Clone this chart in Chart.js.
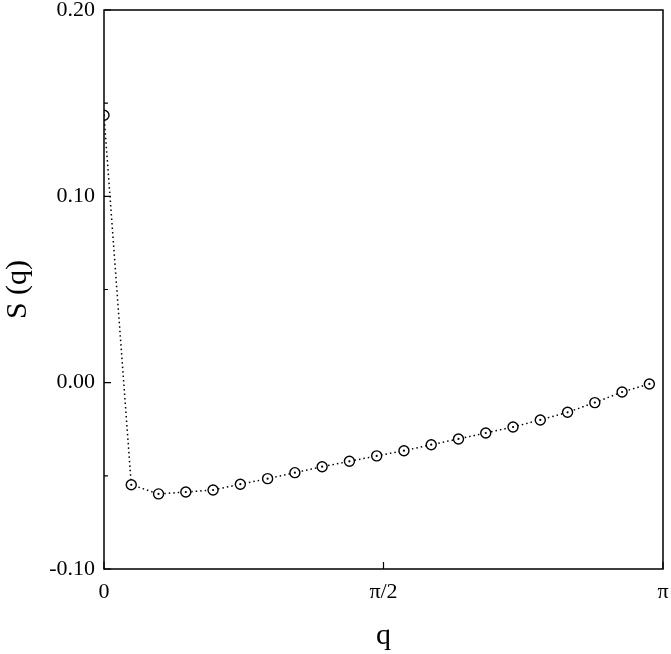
<!DOCTYPE html>
<html lang="en">
<head>
  <meta charset="UTF-8" />
  <title>S(q)</title>
  <script src="https://cdn.jsdelivr.net/npm/chart.js"></script>
  <style>
    html, body { margin: 0; padding: 0; background: #fff; }
    #wrap { width: 671px; height: 654px; }
  </style>
</head>
<body>
  <div id="wrap"><canvas id="sqChart" width="671" height="654"></canvas></div>
  <script>
    // q_k = 2*pi*k/41, k = 0..20
    const N = 41;
    const kIndex = [0,1,2,3,4,5,6,7,8,9,10,11,12,13,14,15,16,17,18,19,20];
    const sValues = [0.1435, -0.0548, -0.0597, -0.0587, -0.0576, -0.0545, -0.0515, -0.0483, -0.0451,
                     -0.0422, -0.0393, -0.0365, -0.0333, -0.0302, -0.0270, -0.0238, -0.0200, -0.0159,
                     -0.0107, -0.0050, -0.0007];
    const xTicks = [0, Math.PI / 2, Math.PI];
    const xTickLabels = ['0', 'π/2', 'π'];
    const yMajor = [-0.1, 0, 0.1, 0.2];
    const yMinor = [-0.05, 0.05, 0.15];

    const points = kIndex.map((k, i) => ({ x: 2 * Math.PI * k / N, y: sValues[i] }));
    const serif = "'Liberation Serif', 'DejaVu Serif', serif";

    // frame + inward tick marks
    const framePlugin = {
      id: 'frame',
      afterDraw(chart) {
        const { ctx, chartArea: a, scales: { x, y } } = chart;
        ctx.save();
        ctx.strokeStyle = '#000';
        ctx.lineWidth = 1.5;
        ctx.strokeRect(a.left, a.top, a.right - a.left, a.bottom - a.top);
        ctx.lineWidth = 1.2;
        ctx.beginPath();
        yMajor.forEach(v => { const p = y.getPixelForValue(v); ctx.moveTo(a.left, p); ctx.lineTo(a.left + 7, p); });
        yMinor.forEach(v => { const p = y.getPixelForValue(v); ctx.moveTo(a.left, p); ctx.lineTo(a.left + 4, p); });
        xTicks.forEach(v => { const p = x.getPixelForValue(v); ctx.moveTo(p, a.bottom); ctx.lineTo(p, a.bottom - 7); });
        ctx.stroke();
        ctx.restore();
      }
    };

    new Chart(document.getElementById('sqChart'), {
      type: 'scatter',
      data: {
        datasets: [{
          data: points,
          order: 1,
          showLine: true,
          borderColor: '#000',
          borderWidth: 1.5,
          borderDash: [1.5, 3],
          pointRadius: 5,
          pointBorderWidth: 1.4,
          pointBackgroundColor: '#fff',
          pointBorderColor: '#000'
        }, {
          data: points,
          order: 0,
          showLine: false,
          pointRadius: 1.1,
          pointBorderWidth: 0,
          pointBackgroundColor: '#000'
        }]
      },
      options: {
        responsive: false,
        animation: false,
        layout: { padding: { top: 10, right: 8, left: 0, bottom: 0 } },
        plugins: { legend: { display: false }, tooltip: { enabled: false } },
        scales: {
          x: {
            type: 'linear',
            min: 0,
            max: Math.PI,
            afterBuildTicks: s => { s.ticks = xTicks.map(v => ({ value: v })); },
            afterFit: s => { s.height = 85; s.paddingLeft = 0; s.paddingRight = 0; },
            grid: { display: false, drawTicks: false },
            border: { display: false },
            ticks: {
              padding: 10,
              color: '#000',
              font: { family: serif, size: 22 },
              maxRotation: 0,
              callback: (v, i) => xTickLabels[i]
            },
            title: {
              display: true,
              text: 'q',
              color: '#000',
              font: { family: serif, size: 30 },
              padding: { top: 0, bottom: 0 }
            }
          },
          y: {
            min: -0.1,
            max: 0.2,
            afterBuildTicks: s => { s.ticks = yMajor.map(v => ({ value: v })); },
            afterFit: s => { s.width = 104; s.paddingTop = 0; s.paddingBottom = 0; },
            grid: { display: false, drawTicks: false },
            border: { display: false },
            ticks: {
              padding: 9,
              color: '#000',
              font: { family: serif, size: 22 },
              callback: v => v.toFixed(2)
            },
            title: {
              display: true,
              text: 'S (q)',
              color: '#000',
              font: { family: serif, size: 30 },
              padding: { top: 0, bottom: 0 }
            }
          }
        }
      },
      plugins: [framePlugin]
    });
  </script>
</body>
</html>
